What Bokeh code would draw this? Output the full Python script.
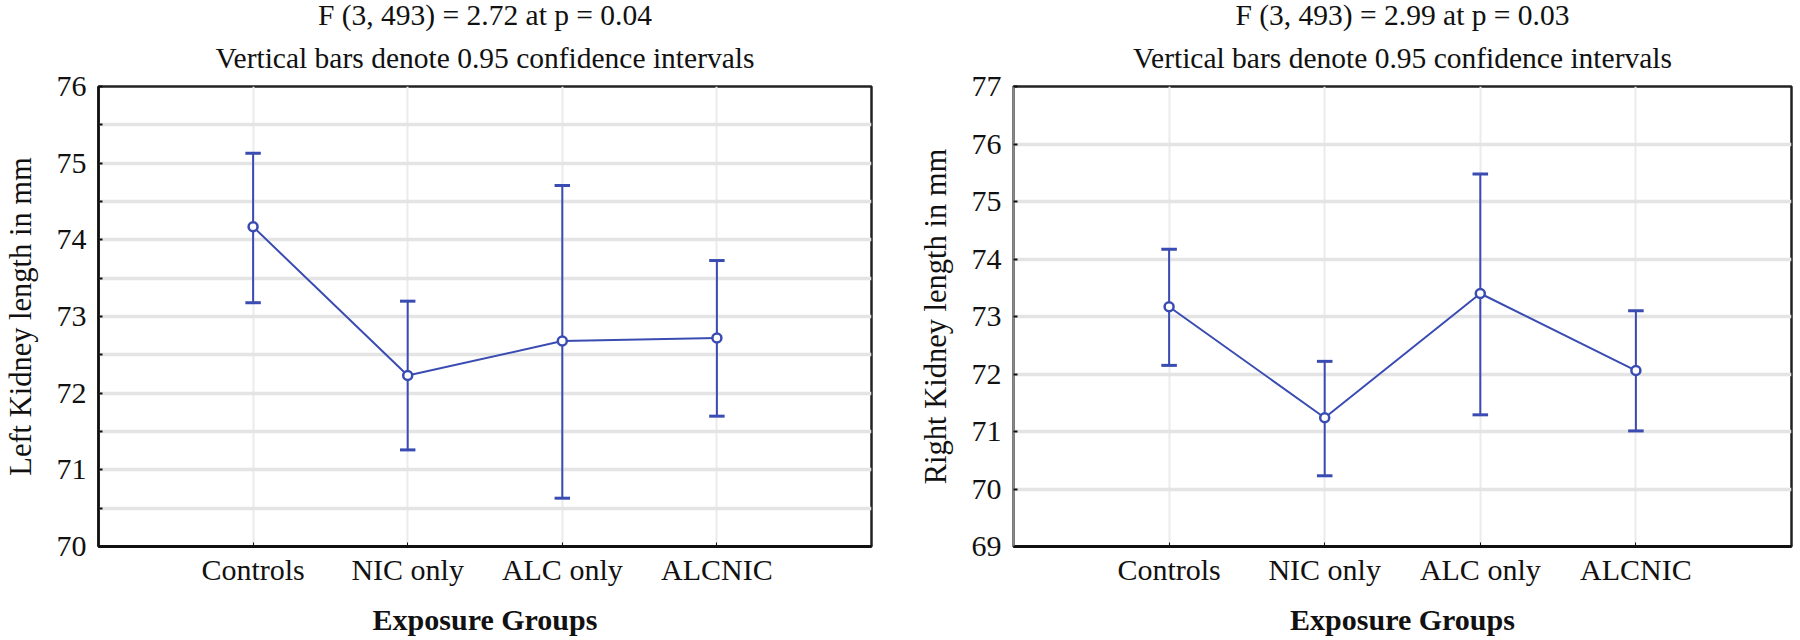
from bokeh.plotting import figure
from bokeh.layouts import row
from bokeh.models import FixedTicker, Range1d, Title
from bokeh.embed import file_html
from bokeh.resources import INLINE

# ---------------- data ----------------
categories = ["Controls", "NIC only", "ALC only", "ALCNIC"]
positions = [1, 2, 3, 4]

left_mean = [74.17, 72.23, 72.68, 72.72]
left_lower = [73.18, 71.26, 70.63, 71.70]
left_upper = [75.13, 73.20, 74.71, 73.73]

right_mean = [73.17, 71.24, 73.40, 72.06]
right_lower = [72.15, 70.23, 71.29, 71.01]
right_upper = [74.17, 72.22, 75.48, 73.10]

left_yticks = [70, 71, 72, 73, 74, 75, 76]
left_yminor = [70.5, 71.5, 72.5, 73.5, 74.5, 75.5]
right_yticks = [69, 70, 71, 72, 73, 74, 75, 76, 77]

left_titles = ["F (3, 493) = 2.72 at p = 0.04", "Vertical bars denote 0.95 confidence intervals"]
right_titles = ["F (3, 493) = 2.99 at p = 0.03", "Vertical bars denote 0.95 confidence intervals"]
x_label = "Exposure Groups"
left_ylabel = "Left Kidney length in mm"
right_ylabel = "Right Kidney length in mm"

# ---------------- style ----------------
SERIF = "Liberation Serif"
BLUE = "#3a4cb2"
GRID = "#e4e4e4"
INK = "#111111"
CAP = 0.05
FRAME_H = 460


def make_panel(mean, lower, upper, yticks, yminor, titles, ylabel,
               frame_w, border_left, border_right, left_axis_color):
    p = figure(frame_width=frame_w, frame_height=FRAME_H, output_backend="svg",
               toolbar_location=None,
               x_range=Range1d(0, 5), y_range=Range1d(yticks[0], yticks[-1]),
               min_border_left=border_left, min_border_right=border_right,
               min_border_top=40, min_border_bottom=90)
    p.background_fill_color = "white"
    p.border_fill_color = "white"
    p.outline_line_color = "#222222"
    p.outline_line_width = 2.5
    p.title = None

    # two-line heading (first added sits nearest the frame)
    sub = Title(text=titles[1], align="center", text_font=SERIF, text_font_size="29.5px",
                text_font_style="normal", text_color=INK, standoff=26)
    main = Title(text=titles[0], align="center", text_font=SERIF, text_font_size="29.5px",
                 text_font_style="normal", text_color=INK, standoff=-8)
    p.add_layout(sub, "above")
    p.add_layout(main, "above")

    # x axis
    xa = p.xaxis[0]
    xa.ticker = FixedTicker(ticks=positions)
    xa.major_label_overrides = {pos: c for pos, c in zip(positions, categories)}
    xa.major_label_text_font = SERIF
    xa.major_label_text_font_size = "30px"
    xa.major_label_text_color = INK
    xa.major_label_standoff = 6
    xa.major_tick_in = 4
    xa.major_tick_out = 0
    xa.minor_tick_line_color = None
    xa.axis_line_width = 3
    xa.axis_line_color = INK
    xa.major_tick_line_color = INK
    xa.axis_label = x_label
    xa.axis_label_text_font = SERIF
    xa.axis_label_text_font_size = "30px"
    xa.axis_label_text_font_style = "bold"
    xa.axis_label_text_color = INK
    xa.axis_label_standoff = 14

    # y axis
    ya = p.yaxis[0]
    ya.ticker = FixedTicker(ticks=yticks, minor_ticks=yminor)
    ya.major_label_text_font = SERIF
    ya.major_label_text_font_size = "30px"
    ya.major_label_text_color = INK
    ya.major_label_standoff = 12
    ya.major_tick_in = 4
    ya.major_tick_out = 0
    ya.minor_tick_in = 4
    ya.minor_tick_out = 0
    ya.major_tick_line_color = INK
    ya.minor_tick_line_color = INK
    ya.major_tick_line_width = 2
    ya.minor_tick_line_width = 2
    ya.axis_line_width = 2.5
    ya.axis_line_color = left_axis_color
    ya.axis_label = ylabel
    ya.axis_label_text_font = SERIF
    ya.axis_label_text_font_size = "30.5px"
    ya.axis_label_text_font_style = "normal"
    ya.axis_label_text_color = INK
    ya.axis_label_standoff = 16

    # grid
    p.xgrid.ticker = FixedTicker(ticks=positions)
    p.xgrid.grid_line_color = "#ebebeb"
    p.xgrid.grid_line_width = 2
    p.ygrid.ticker = FixedTicker(ticks=yticks, minor_ticks=yminor)
    p.ygrid.grid_line_color = GRID
    p.ygrid.grid_line_width = 3.5
    if yminor:
        p.ygrid.minor_grid_line_color = GRID
        p.ygrid.minor_grid_line_width = 3.5

    # error bars
    p.segment(x0=positions, y0=lower, x1=positions, y1=upper, line_color=BLUE, line_width=2)
    p.segment(x0=[x - CAP for x in positions], y0=upper, x1=[x + CAP for x in positions], y1=upper,
              line_color=BLUE, line_width=3)
    p.segment(x0=[x - CAP for x in positions], y0=lower, x1=[x + CAP for x in positions], y1=lower,
              line_color=BLUE, line_width=3)
    # mean line and markers
    p.line(positions, mean, line_color=BLUE, line_width=2)
    p.scatter(positions, mean, marker="circle", size=9, fill_color="white",
              line_color=BLUE, line_width=2.5)
    return p


left = make_panel(left_mean, left_lower, left_upper, left_yticks, left_yminor,
                  left_titles, left_ylabel, 773, 89, 26, INK)
right = make_panel(right_mean, right_lower, right_upper, right_yticks, [],
                   right_titles, right_ylabel, 778, 116, 5, "#888888")

layout = row(left, right)
open("out.html", "w").write(file_html(layout, INLINE))
